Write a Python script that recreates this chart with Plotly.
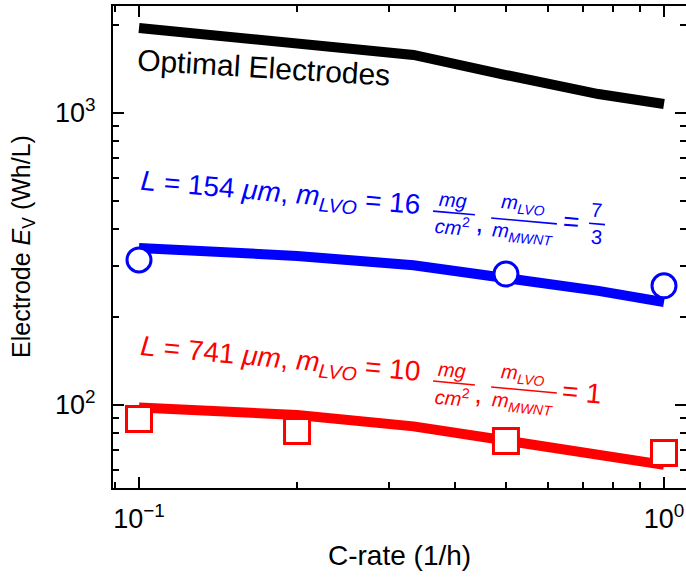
import math
import plotly.graph_objects as go

# ---- data ---------------------------------------------------------------
crate_model = [0.1, 0.2, 1 / 3, 0.5, 0.75, 1.0]
ev_optimal = [1955, 1729, 1580, 1349, 1161, 1073]
ev_154_model = [345, 324, 301, 274, 246, 225]
ev_741_model = [98, 92.4, 84.5, 75, 67.3, 62.4]

crate_exp_154 = [0.1, 0.5, 1.0]
ev_exp_154 = [314, 281, 256]
crate_exp_741 = [0.1, 0.2, 0.5, 1.0]
ev_exp_741 = [89.6, 81.5, 75.3, 68.5]

x_ticks = [0.1, 1.0]
x_ticktext = ["10<sup>\u22121</sup>", "10<sup>0</sup>"]
y_ticks = [100, 1000]
y_ticktext = ["10<sup>2</sup>", "10<sup>3</sup>"]

# ---- layout constants ---------------------------------------------------
W, H = 686, 582
ML, MR, MT, MB = 113, 0, 6, 94
XR = [-1.04952, 0.04190]
YR = [1.7158, 3.3664]
FONT = "Liberation Sans, Arial, Helvetica, sans-serif"
BLUE = "#0000ff"
RED = "#ff0000"


def fx(v):
    return (math.log10(v) - XR[0]) / (XR[1] - XR[0])


def fy(v):
    return (math.log10(v) - YR[0]) / (YR[1] - YR[0])


fig = go.Figure()

fig.add_trace(go.Scatter(x=crate_model, y=ev_optimal, mode="lines",
                         line=dict(color="black", width=10), showlegend=False))
fig.add_trace(go.Scatter(x=crate_model, y=ev_154_model, mode="lines",
                         line=dict(color=BLUE, width=10), showlegend=False))
fig.add_trace(go.Scatter(x=crate_model, y=ev_741_model, mode="lines",
                         line=dict(color=RED, width=10), showlegend=False))
fig.add_trace(go.Scatter(x=crate_exp_154, y=ev_exp_154, mode="markers",
                         marker=dict(symbol="circle", size=24, color="white",
                                     line=dict(color=BLUE, width=3)),
                         showlegend=False))
fig.add_trace(go.Scatter(x=crate_exp_741, y=ev_exp_741, mode="markers",
                         marker=dict(symbol="square", size=25, color="white",
                                     line=dict(color=RED, width=3)),
                         showlegend=False))
# invisible trace on the right-hand axis so its inward ticks are drawn
fig.add_trace(go.Scatter(x=[0.1], y=[100], yaxis="y2", mode="markers",
                         marker=dict(opacity=0), showlegend=False, hoverinfo="skip"))

annotations = []
shapes = []


def label_group(ax_v, ay_v, angle, color, pieces, bars):
    """Text pieces placed along a rotated baseline around a data anchor."""
    ax_p, ay_p = fx(ax_v), fy(ay_v)
    for text, dx, dy, size in pieces:
        annotations.append(dict(
            x=ax_p, y=ay_p, xref="paper", yref="paper", xshift=dx, yshift=-dy,
            text=text, showarrow=False, textangle=angle,
            xanchor="center", yanchor="middle",
            font=dict(family=FONT, size=size, color=color)))
    t = math.radians(angle)
    for dx, dy, half in bars:
        shapes.append(dict(
            type="line", xref="paper", yref="paper",
            xsizemode="pixel", ysizemode="pixel",
            xanchor=ax_p, yanchor=ay_p,
            x0=dx - half * math.cos(t), x1=dx + half * math.cos(t),
            y0=-(dy - half * math.sin(t)), y1=-(dy + half * math.sin(t)),
            line=dict(color=color, width=1.6)))


MAIN = 28
FRAC = 20

label_group(0.1864, 524, 5.0, BLUE, [
    ("<i>L</i> = 154 <i>\u03bcm</i>, <i>m</i><sub><i>LVO</i></sub> = 16", 0, 0, MAIN),
    ("<i>mg</i>", 172, 5, FRAC),
    ("<i>cm</i><sup>2</sup>", 172, 31, FRAC),
    (",", 199, 28, MAIN),
    ("<i>m</i><sub><i>LVO</i></sub>", 242, 10, FRAC),
    ("<i>m</i><sub><i>MWNT</i></sub>", 242, 39, FRAC),
    ("=", 290, 27, MAIN),
    ("7", 316, 15, FRAC),
    ("3", 316, 42, FRAC),
], [(173, 18, 21), (243, 26, 33), (316, 29, 8)])

label_group(0.1864, 142.6, 5.3, RED, [
    ("<i>L</i> = 741 <i>\u03bcm</i>, <i>m</i><sub><i>LVO</i></sub> = 10", 0, 0, MAIN),
    ("<i>mg</i>", 171, 10, FRAC),
    ("<i>cm</i><sup>2</sup>", 172, 36, FRAC),
    (",", 198, 33, MAIN),
    ("<i>m</i><sub><i>LVO</i></sub>", 242, 14, FRAC),
    ("<i>m</i><sub><i>MWNT</i></sub>", 242, 43, FRAC),
    ("= 1", 301, 32, MAIN),
], [(173, 23, 21), (243, 30, 33)])

label_group(0.173, 1426, 3.5, "black", [
    ("Optimal Electrodes", 0, 0, 30),
], [])

# axis titles
annotations.append(dict(x=0.5, y=0, xref="paper", yref="paper", yshift=-67,
                        text="C-rate (1/h)", showarrow=False,
                        xanchor="center", yanchor="middle",
                        font=dict(family=FONT, size=28, color="black")))
annotations.append(dict(x=0, y=0.5, xref="paper", yref="paper", xshift=-90,
                        text="Electrode <i>E</i><sub>V</sub> (Wh/L)", showarrow=False,
                        textangle=-90, xanchor="center", yanchor="middle",
                        font=dict(family=FONT, size=25, color="black")))

x_minor = [m * 10 ** e for e in (-2, -1, 0) for m in range(2, 10)]
y_minor = [m * 10 ** e for e in (1, 2, 3) for m in range(2, 10)]

axis_common = dict(type="log", ticks="inside", ticklen=11, tickwidth=2,
                   tickcolor="black", showgrid=False, zeroline=False,
                   ticklabeloverflow="allow",
                   tickfont=dict(family=FONT, size=27, color="black"))

fig.update_layout(
    width=W, height=H,
    margin=dict(l=ML, r=MR, t=MT, b=MB, pad=0),
    paper_bgcolor="white", plot_bgcolor="white",
    xaxis=dict(range=XR, tickmode="array", tickvals=x_ticks, ticktext=x_ticktext,
               showline=True, linecolor="black", linewidth=2, mirror="ticks",
               ticklabelstandoff=6,
               minor=dict(tickmode="array", tickvals=x_minor, ticks="inside",
                          ticklen=6, tickwidth=2, tickcolor="black"),
               **axis_common),
    yaxis=dict(range=YR, tickmode="array", tickvals=y_ticks, ticktext=y_ticktext,
               showline=True, linecolor="black", linewidth=2, mirror=False,
               ticklabelstandoff=10,
               minor=dict(tickmode="array", tickvals=y_minor, ticks="inside",
                          ticklen=6, tickwidth=2, tickcolor="black"),
               **axis_common),
    yaxis2=dict(range=YR, overlaying="y", side="right", showline=False,
                tickmode="array", tickvals=y_ticks, showticklabels=False,
                minor=dict(tickmode="array", tickvals=y_minor, ticks="inside",
                           ticklen=6, tickwidth=2, tickcolor="black"),
                **axis_common),
    annotations=annotations,
    shapes=shapes,
)

fig.write_html("out.html")
